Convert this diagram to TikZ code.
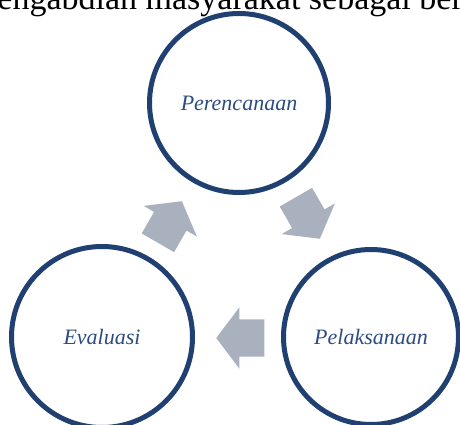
\documentclass[tikz,border=0pt]{standalone}
\usepackage{fontspec}
\setmainfont{Liberation Serif}
\usetikzlibrary{shapes.arrows}
\definecolor{ringblue}{RGB}{31,64,112}
\definecolor{labelblue}{RGB}{43,76,128}
\definecolor{arrowgray}{RGB}{170,177,190}
\begin{document}
\begin{tikzpicture}[x=1pt, y=1pt,
    phase/.style={circle, draw=ringblue, line width=5pt, inner sep=0pt,
        font=\fontsize{22}{26}\selectfont\itshape, text=labelblue},
    flow/.style={single arrow, fill=arrowgray, inner xsep=0pt, inner ysep=18.5pt,
        minimum width=0pt, minimum height=48pt, single arrow head extend=12pt,
        single arrow tip angle=106, anchor=tip}]
        \useasboundingbox (0,0) rectangle (460,425);
        \clip (0,0) rectangle (460,425);

        \node[anchor=base east, inner sep=0pt, font=\fontsize{34}{40}\selectfont] (title) at (463,415) {engabdian masyarakat sebagai ber};

        \node[phase, minimum size=179pt] at (239,322)(plan){Perencanaan};
        \node[phase, minimum size=175pt] at (371,88)(exec){Pelaksanaan};
        \node[phase, minimum size=181pt] at (102,88)(eval){Evaluasi};

        \node[flow, rotate=-60] at (320,186)(a1){};
        \node[flow, rotate=180] at (216,87)(a2){};
        \node[flow, rotate=60] at (182,224)(a3){};
    \end{tikzpicture}
\end{document}
